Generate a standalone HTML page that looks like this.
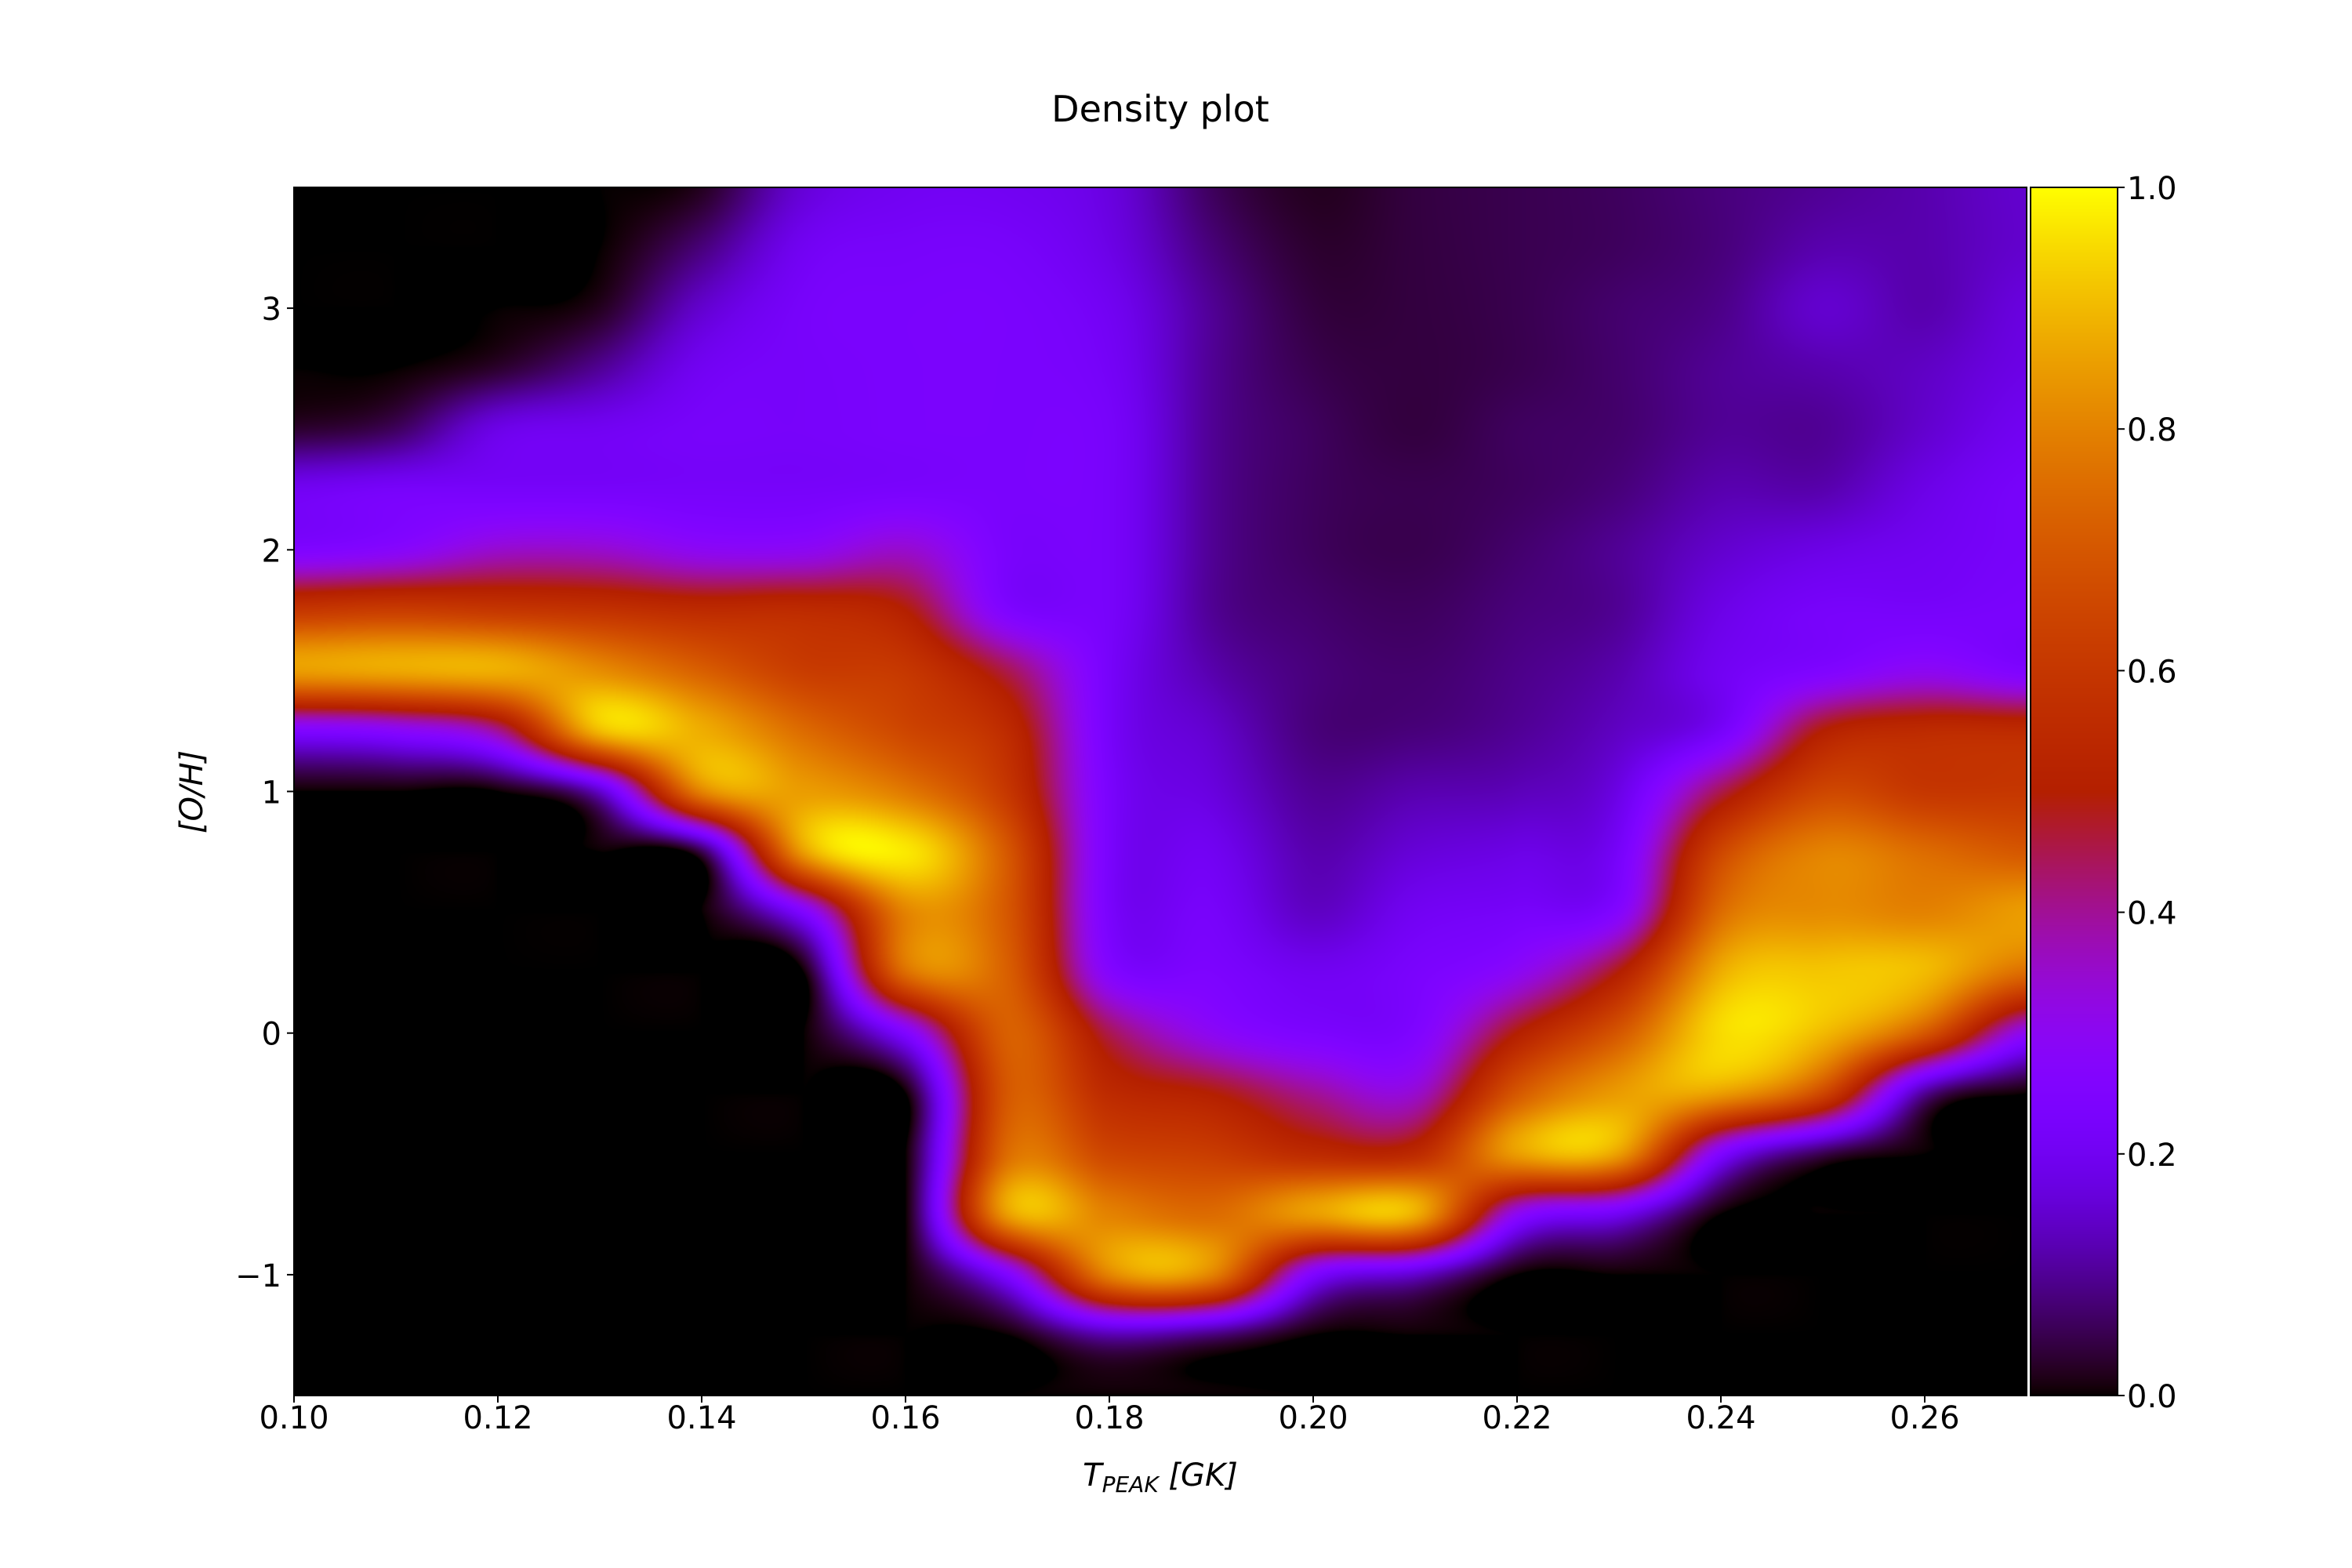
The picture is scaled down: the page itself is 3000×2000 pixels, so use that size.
<!DOCTYPE html>
<html><head><meta charset="utf-8"><style>
body{margin:0;background:#fff;width:3000px;height:2000px;overflow:hidden;position:relative;font-family:"DejaVu Sans","Liberation Sans",sans-serif}
canvas{position:absolute}
svg{position:absolute;left:0;top:0}
</style></head><body>
<canvas id="heat"></canvas>
<canvas id="cbar"></canvas>
<svg id="svg" width="3000" height="2000"></svg>
<script>
// ---- data ----
const tCols = [0.10,0.11,0.12,0.13,0.14,0.15,0.16,0.17,0.18,0.19,0.20,0.21,0.22,0.23,0.24,0.25,0.26,0.27];
const ohRows = [3.5,3.25,3.0,2.75,2.5,2.25,2.0,1.75,1.5,1.25,1.0,0.75,0.5,0.25,0,-0.25,-0.5,-0.75,-1.0,-1.25,-1.5];
const d010 = [0,0,0,0,0.03,0.2,0.25,0.6,0.85,0.25,0,0,0,0,0,0,0,0,0,0,0];
const d011 = [0,0,0,0,0.06,0.22,0.28,0.62,0.87,0.28,0,0,0,0,0,0,0,0,0,0,0];
const d012 = [0,0,0,0.03,0.18,0.22,0.35,0.6,0.88,0.4,0,0,0,0,0,0,0,0,0,0,0];
const d013 = [0,0,0.02,0.1,0.2,0.22,0.35,0.58,0.82,0.9,0.15,0,0,0,0,0,0,0,0,0,0];
const d014 = [0.02,0.08,0.15,0.2,0.22,0.22,0.3,0.55,0.72,0.88,0.8,0.05,0,0,0,0,0,0,0,0,0];
const d015 = [0.16,0.2,0.22,0.22,0.22,0.22,0.3,0.55,0.62,0.75,0.85,0.85,0.25,0,0,0,0,0,0,0,0];
const d016 = [0.2,0.22,0.23,0.23,0.23,0.23,0.35,0.5,0.6,0.65,0.78,0.97,0.8,0.75,0.25,0,0,0,0,0,0];
const d017 = [0.2,0.22,0.23,0.23,0.23,0.23,0.23,0.25,0.45,0.55,0.6,0.7,0.7,0.72,0.72,0.7,0.75,0.85,0.25,0,0];
const d018 = [0.17,0.18,0.2,0.21,0.22,0.22,0.22,0.22,0.22,0.22,0.23,0.23,0.23,0.27,0.45,0.55,0.65,0.8,0.8,0.12,0];
const d019 = [0.06,0.08,0.1,0.1,0.1,0.1,0.1,0.1,0.12,0.15,0.17,0.2,0.22,0.24,0.3,0.5,0.62,0.75,0.8,0.08,0];
const d020 = [0.02,0.03,0.04,0.05,0.06,0.06,0.06,0.07,0.08,0.08,0.1,0.12,0.14,0.2,0.24,0.4,0.55,0.85,0.25,0,0];
const d021 = [0.04,0.04,0.04,0.04,0.04,0.05,0.05,0.06,0.07,0.08,0.12,0.16,0.2,0.23,0.25,0.35,0.55,0.88,0.15,0,0];
const d022 = [0.05,0.05,0.05,0.05,0.06,0.06,0.07,0.08,0.09,0.1,0.13,0.18,0.22,0.3,0.5,0.7,0.85,0.3,0,0,0];
const d023 = [0.06,0.06,0.07,0.07,0.07,0.08,0.1,0.1,0.12,0.14,0.18,0.22,0.27,0.5,0.7,0.85,0.85,0.2,0,0,0];
const d024 = [0.08,0.08,0.09,0.1,0.1,0.12,0.15,0.18,0.2,0.22,0.45,0.65,0.75,0.88,0.95,0.85,0.25,0,0,0,0];
const d025 = [0.1,0.12,0.15,0.12,0.1,0.12,0.18,0.22,0.25,0.5,0.65,0.8,0.82,0.92,0.9,0.65,0.05,0,0,0,0];
const d026 = [0.12,0.12,0.12,0.14,0.15,0.18,0.2,0.22,0.3,0.55,0.6,0.75,0.8,0.9,0.7,0.1,0,0,0,0,0];
const d027 = [0.15,0.15,0.17,0.18,0.2,0.22,0.22,0.23,0.25,0.55,0.6,0.7,0.85,0.75,0.3,0,0,0,0,0,0];
const densityCols = [d010,d011,d012,d013,d014,d015,d016,d017,d018,d019,d020,d021,d022,d023,d024,d025,d026,d027];
const xTicks = [0.10,0.12,0.14,0.16,0.18,0.20,0.22,0.24,0.26];
const xTickLabels = ["0.10","0.12","0.14","0.16","0.18","0.20","0.22","0.24","0.26"];
const yTicks = [-1,0,1,2,3];
const yTickLabels = ["\u22121","0","1","2","3"];
const cTicks = [0,0.2,0.4,0.6,0.8,1.0];
const cTickLabels = ["0.0","0.2","0.4","0.6","0.8","1.0"];

// ---- layout / axes ----
const L=375,R=2585,T=239,B=1780, CL=2590, CR=2701;
const xMin=0.10,xMax=0.27,yMin=-1.5,yMax=3.5;
const xs=v=>L+(v-xMin)/(xMax-xMin)*(R-L);
const ys=v=>B-(v-yMin)/(yMax-yMin)*(B-T);
const cs=v=>B-v*(B-T);
function cmap(v){v=Math.max(0,Math.min(1,v));
  return [Math.sqrt(v)*255, v*v*v*255, Math.max(0,Math.sin(2*Math.PI*v))*255];}
function cr(p0,p1,p2,p3,t){return 0.5*((2*p1)+(-p0+p2)*t+(2*p0-5*p1+4*p2-p3)*t*t+(-p0+3*p1-3*p2+p3)*t*t*t);}

// heatmap
const hc=document.getElementById('heat');
const W=R-L,H=B-T;
hc.width=W;hc.height=H;hc.style.left=L+'px';hc.style.top=T+'px';
const ctx=hc.getContext('2d');const img=ctx.createImageData(W,H);
const nC=tCols.length,nR=ohRows.length;
const g=(c,r)=>densityCols[Math.max(0,Math.min(nC-1,c))][Math.max(0,Math.min(nR-1,r))];
for(let py=0;py<H;py++){
  const oh=yMax-(py+0.5)/H*(yMax-yMin);
  let rf=(ohRows[0]-oh)/(ohRows[0]-ohRows[1]);rf=Math.max(0,Math.min(nR-1.0001,rf));
  const r0=Math.floor(rf),fr=rf-r0;
  const colv=new Array(nC);
  for(let c=0;c<nC;c++)colv[c]=cr(g(c,r0-1),g(c,r0),g(c,r0+1),g(c,r0+2),fr);
  const gc=c=>colv[Math.max(0,Math.min(nC-1,c))];
  for(let px=0;px<W;px++){
    const t=xMin+(px+0.5)/W*(xMax-xMin);
    let cf=(t-tCols[0])/(tCols[1]-tCols[0]);cf=Math.max(0,Math.min(nC-1.0001,cf));
    const c0=Math.floor(cf),fc=cf-c0;
    const v=cr(gc(c0-1),gc(c0),gc(c0+1),gc(c0+2),fc);
    const col=cmap(v);const i=(py*W+px)*4;
    img.data[i]=col[0];img.data[i+1]=col[1];img.data[i+2]=col[2];img.data[i+3]=255;
  }
}
ctx.putImageData(img,0,0);

// colorbar
const cb=document.getElementById('cbar');
cb.width=CR-CL;cb.height=H;cb.style.left=CL+'px';cb.style.top=T+'px';
const cctx=cb.getContext('2d');
for(let py=0;py<H;py++){const c=cmap(1-(py+0.5)/H);
  cctx.fillStyle=`rgb(${c[0]|0},${c[1]|0},${c[2]|0})`;cctx.fillRect(0,py,CR-CL,1);}

// svg
const svg=document.getElementById('svg');const NS='http://www.w3.org/2000/svg';
function el(tag,attrs,txt){const e=document.createElementNS(NS,tag);for(const k in attrs)e.setAttribute(k,attrs[k]);if(txt!==undefined)e.textContent=txt;svg.appendChild(e);return e;}
let e;
e=el('rect',{x:L,y:T,width:W,height:H,fill:'none',stroke:'#000','stroke-width':2});


e=el('rect',{x:CL,y:T,width:CR-CL,height:H,fill:'none',stroke:'#000','stroke-width':2});


xTicks.forEach((v,i)=>{
  e=el('line',{x1:xs(v),x2:xs(v),y1:B,y2:B+9,stroke:'#000','stroke-width':2});
  
  
  e=el('text',{x:xs(v),y:B+42,'font-size':40,'text-anchor':'middle'},xTickLabels[i]);
  
  
});
yTicks.forEach((v,i)=>{
  e=el('line',{x1:L-9,x2:L,y1:ys(v),y2:ys(v),stroke:'#000','stroke-width':2});
  
  
  e=el('text',{x:L-16,y:ys(v)+15,'font-size':40,'text-anchor':'end'},yTickLabels[i]);
  
  
});
cTicks.forEach((v,i)=>{
  e=el('line',{x1:CR,x2:CR+9,y1:cs(v),y2:cs(v),stroke:'#000','stroke-width':2});
  
  
  e=el('text',{x:CR+12,y:cs(v)+15,'font-size':40},cTickLabels[i]);
  
  
});
e=el('text',{x:1480,y:155,'font-size':46,'text-anchor':'middle'},'Density plot');


e=el('text',{x:1480,y:1895,'font-size':40,'text-anchor':'middle','font-style':'italic'});


e.innerHTML='T<tspan font-size="28" dy="8">PEAK</tspan><tspan dy="-8"> [GK]</tspan>';
e=el('text',{x:0,y:0,'font-size':40,'text-anchor':'middle','font-style':'italic',transform:'translate(258,1010) rotate(-90)'},'[O/H]');


</script>
</body></html>
